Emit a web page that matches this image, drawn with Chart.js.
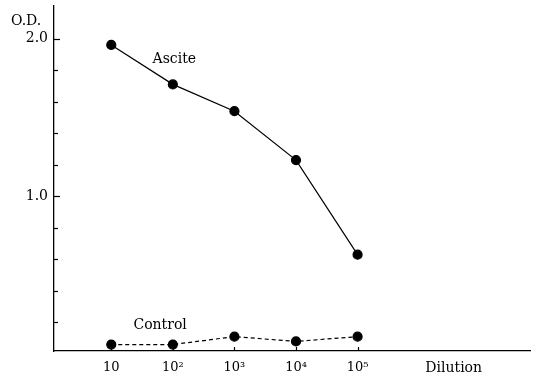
<!DOCTYPE html>
<html>
<head>
<meta charset="utf-8">
<script src="https://cdn.jsdelivr.net/npm/chart.js@4/dist/chart.umd.min.js"></script>
<style>
  html, body { margin: 0; padding: 0; background: #fff; }
  #chart { display: block; }
</style>
</head>
<body>
<canvas id="chart" width="538" height="379"></canvas>
<script>
// dilution as log10 exponent
const dilutionExp = [1, 2, 3, 4, 5];
const dilutionLabels = ['10', '10\u00B2', '10\u00B3', '10\u2074', '10\u2075'];
const asciteOD = [1.96, 1.71, 1.54, 1.23, 0.63];
const controlOD = [0.06, 0.06, 0.11, 0.08, 0.11];
const yLabelTicks = [1.0, 2.0];

const serif = '"DejaVu Serif", "Liberation Serif", serif';

function toPoints(xs, ys) {
    return xs.map(function (x, i) { return { x: x, y: ys[i] }; });
}

// inside tick marks + free text labels
const annotations = {
    id: 'annotations',
    afterDraw: function (chart) {
        const ctx = chart.ctx;
        const xs = chart.scales.x;
        const ys = chart.scales.y;
        ctx.save();
        ctx.strokeStyle = '#000';
        ctx.lineWidth = 1.2;
        // y ticks every 0.2, pointing right
        for (let v = 0.2; v <= 2.01; v += 0.2) {
            const py = Math.round(ys.getPixelForValue(v)) + 0.5;
            ctx.beginPath();
            ctx.moveTo(xs.left, py);
            ctx.lineTo(xs.left + (yLabelTicks.some(t => Math.abs(t - v) < 0.01) ? 6 : 4), py);
            ctx.stroke();
        }
        // x ticks at dilutions, pointing up
        dilutionExp.forEach(function (e) {
            const px = Math.round(xs.getPixelForValue(e)) + 0.5;
            ctx.beginPath();
            ctx.moveTo(px, ys.bottom);
            ctx.lineTo(px, ys.bottom - 4);
            ctx.stroke();
        });
        ctx.fillStyle = '#000';
        ctx.font = '14px ' + serif;
        ctx.textBaseline = 'middle';
        ctx.textAlign = 'left';
        ctx.fillText('O.D.', 11, 21);
        ctx.fillText('Ascite', xs.getPixelForValue(1.67), ys.getPixelForValue(1.87));
        ctx.fillText('Control', xs.getPixelForValue(1.36), ys.getPixelForValue(0.18));
        ctx.fillText('Dilution', xs.getPixelForValue(6.1), ys.bottom + 17);
        ctx.restore();
    }
};

new Chart(document.getElementById('chart'), {
    type: 'line',
    data: {
        datasets: [{
            label: 'Ascite',
            data: toPoints(dilutionExp, asciteOD),
            borderColor: '#000',
            backgroundColor: '#000',
            borderWidth: 1.2,
            pointRadius: 4.5,
            pointBackgroundColor: '#000',
            tension: 0
        }, {
            label: 'Control',
            data: toPoints(dilutionExp, controlOD),
            borderColor: '#000',
            backgroundColor: '#000',
            borderWidth: 1.2,
            borderDash: [4, 3],
            pointRadius: 4.5,
            pointBackgroundColor: '#000',
            tension: 0
        }]
    },
    options: {
        responsive: false,
        animation: false,
        layout: { padding: { top: 5, right: 8, left: 0, bottom: 0 } },
        plugins: {
            legend: { display: false },
            tooltip: { enabled: false }
        },
        scales: {
            x: {
                type: 'linear',
                min: 0.07,
                max: 7.8,
                afterBuildTicks: function (scale) {
                    scale.ticks = dilutionExp.map(function (v) { return { value: v }; });
                },
                afterFit: function (scale) {
                    scale.height = 28;
                    scale.paddingLeft = 0;
                    scale.paddingRight = 0;
                },
                ticks: {
                    color: '#000',
                    font: { family: serif, size: 13 },
                    padding: 9,
                    maxRotation: 0,
                    autoSkip: false,
                    callback: function (v) {
                        const i = dilutionExp.indexOf(v);
                        return i >= 0 ? dilutionLabels[i] : '';
                    }
                },
                grid: { display: false, drawTicks: false },
                border: { display: true, color: '#000', width: 1.3 }
            },
            y: {
                min: 0.019,
                max: 2.209,
                afterBuildTicks: function (scale) {
                    scale.ticks = yLabelTicks.map(function (v) { return { value: v }; });
                },
                afterFit: function (scale) {
                    scale.width = 54;
                    scale.paddingTop = 0;
                    scale.paddingBottom = 0;
                },
                ticks: {
                    color: '#000',
                    font: { family: serif, size: 14 },
                    padding: 6,
                    callback: function (v) { return v.toFixed(1); }
                },
                grid: { display: false, drawTicks: false },
                border: { display: true, color: '#000', width: 1.3 }
            }
        }
    },
    plugins: [annotations]
});
</script>
</body>
</html>
